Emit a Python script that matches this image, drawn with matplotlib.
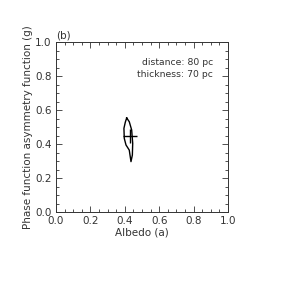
import matplotlib
matplotlib.use("Agg")
import matplotlib.pyplot as plt
from matplotlib.ticker import MultipleLocator

# contorno de confianca (albedo, g)
albedo = [0.411, 0.403, 0.395, 0.397, 0.407, 0.426, 0.436, 0.444, 0.446, 0.440, 0.426, 0.411]
gfun = [0.555, 0.530, 0.494, 0.435, 0.396, 0.366, 0.298, 0.337, 0.406, 0.484, 0.533, 0.555]

# melhor ajuste e barras de erro
a_best = 0.430
g_best = 0.449
a_err = 0.041
g_err = 0.042

cor = "#333333"
plt.rcParams['font.family'] = ['DejaVu Sans']
fig = plt.figure(figsize=(2.84, 2.84), dpi=100)
ax = fig.add_axes([0.197, 0.2525, 0.606, 0.5985])

ax.plot(albedo, gfun, color="k", lw=1.0)
ax.errorbar([a_best], [g_best], xerr=[a_err], yerr=[g_err], color="k", lw=1.0, capsize=0)

ax.set_xlim(0, 1)
ax.set_ylim(0, 1)
ax.xaxis.set_major_locator(MultipleLocator(0.2))
ax.yaxis.set_major_locator(MultipleLocator(0.2))
ax.xaxis.set_minor_locator(MultipleLocator(0.05))
ax.yaxis.set_minor_locator(MultipleLocator(0.05))
ax.tick_params(which="both", direction="in", top=True, right=True, labelsize=7.5,
               colors=cor, width=0.6, pad=3)
ax.tick_params(which="major", length=4)
ax.tick_params(which="minor", length=2)
for s in ax.spines.values():
    s.set_linewidth(0.7)
    s.set_color(cor)

ax.set_xlabel("Albedo (a)", fontsize=7.5, labelpad=1, color=cor)
ax.set_ylabel("Phase function asymmetry function (g)", fontsize=7.5, labelpad=2, color=cor)
ax.text(0.0, 1.01, "(b)", transform=ax.transAxes, fontsize=7.5, ha="left", va="bottom", color=cor)
ax.text(0.913, 0.846, "distance: 80 pc\nthickness: 70 pc", transform=ax.transAxes,
        fontsize=6.7, ha="right", va="center", linespacing=1.35, color=cor)

plt.savefig("out.png", dpi=100)
